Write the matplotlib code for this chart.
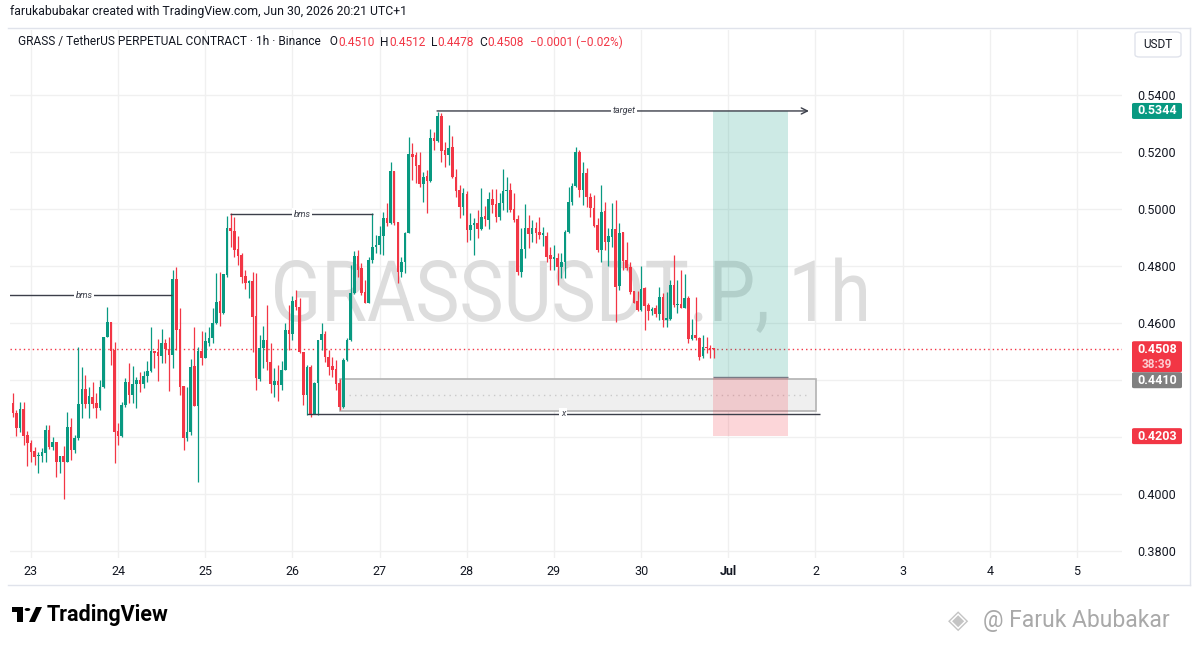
import numpy as np
import matplotlib
matplotlib.use("Agg")
import matplotlib.pyplot as plt
from matplotlib.patches import Rectangle, FancyBboxPatch, PathPatch, Polygon, Circle
from matplotlib.textpath import TextPath
from matplotlib.font_manager import FontProperties
from matplotlib.transforms import Affine2D

plt.rcParams['font.family'] = ['Roboto', 'DejaVu Sans']

# ---------------- data (hourly candles, first = Jun 22 19:00) ----------------
opens = [0.4319,0.4284,0.4232,0.4298,0.4207,0.4179,0.4150,0.4133,0.4133,0.4144,
         0.4225,0.4165,0.4182,0.4112,0.4133,0.4112,0.4235,0.4154,0.4196,0.4316,
         0.4368,0.4316,0.4340,0.4319,0.4302,0.4375,0.4551,0.4604,0.4505,0.4221,
         0.4204,0.4312,0.4393,0.4347,0.4386,0.4400,0.4386,0.4414,0.4432,0.4502,
         0.4498,0.4484,0.4530,0.4509,0.4488,0.4754,0.4579,0.4379,0.4196,0.4218,
         0.4449,0.4309,0.4502,0.4477,0.4530,0.4547,0.4600,0.4677,0.4635,0.4768,
         0.4933,0.4923,0.4860,0.4839,0.4765,0.4740,0.4747,0.4625,0.4404,0.4512,
         0.4540,0.4463,0.4383,0.4396,0.4383,0.4435,0.4575,0.4561,0.4681,0.4656,
         0.4498,0.4347,0.4446,0.4281,0.4389,0.4540,0.4561,0.4481,0.4449,0.4439,
         0.4389,0.4305,0.4470,0.4540,0.4705,0.4835,0.4793,0.4709,0.4670,0.4821,
         0.4867,0.4874,0.4905,0.4968,0.4951,0.5133,0.4954,0.4779,0.4814,0.4916,
         0.5193,0.5189,0.5154,0.5088,0.5116,0.5098,0.5249,0.5239,0.5326,0.5207,
         0.5189,0.5218,0.5112,0.5067,0.5007,0.5053,0.4926,0.4944,0.4951,0.4930,
         0.4975,0.4961,0.5035,0.5018,0.4972,0.5021,0.5063,0.5067,0.5000,0.4965,
         0.4779,0.4860,0.4933,0.4912,0.4933,0.4919,0.4909,0.4905,0.4839,0.4825,
         0.4828,0.4796,0.4814,0.4919,0.5025,0.5081,0.5200,0.5067,0.5126,0.5042,
         0.5004,0.4944,0.4856,0.4993,0.4884,0.4902,0.4930,0.4730,0.4919,0.4821,
         0.4796,0.4712,0.4677,0.4646,0.4723,0.4663,0.4642,0.4653,0.4632,0.4691,
         0.4611,0.4614,0.4733,0.4663,0.4667,0.4653,0.4688,0.4544,0.4558,0.4547,
         0.4484,0.4516,0.4512,0.4510]
highs = [0.4354,0.4295,0.4323,0.4323,0.4221,0.4189,0.4165,0.4147,0.4161,0.4242,
         0.4242,0.4200,0.4182,0.4133,0.4168,0.4288,0.4267,0.4207,0.4516,0.4446,
         0.4418,0.4375,0.4393,0.4354,0.4400,0.4551,0.4656,0.4604,0.4533,0.4249,
         0.4323,0.4407,0.4460,0.4449,0.4411,0.4428,0.4432,0.4467,0.4586,0.4502,
         0.4544,0.4579,0.4544,0.4551,0.4786,0.4796,0.4653,0.4379,0.4375,0.4474,
         0.4586,0.4516,0.4572,0.4568,0.4586,0.4653,0.4775,0.4779,0.4772,0.4975,
         0.4986,0.4972,0.4905,0.4846,0.4786,0.4751,0.4779,0.4775,0.4558,0.4589,
         0.4663,0.4530,0.4442,0.4453,0.4467,0.4600,0.4663,0.4695,0.4716,0.4688,
         0.4498,0.4453,0.4453,0.4393,0.4540,0.4600,0.4572,0.4505,0.4481,0.4470,
         0.4404,0.4477,0.4547,0.4804,0.4853,0.4856,0.4811,0.4751,0.4832,0.4986,
         0.4909,0.4940,0.4989,0.5021,0.5165,0.5133,0.4954,0.4832,0.4919,0.5253,
         0.5232,0.5200,0.5200,0.5130,0.5137,0.5281,0.5270,0.5340,0.5337,0.5235,
         0.5295,0.5256,0.5140,0.5084,0.5074,0.5063,0.4986,0.4968,0.4996,0.5074,
         0.5011,0.5060,0.5070,0.5070,0.5056,0.5140,0.5112,0.5091,0.5056,0.4979,
         0.4933,0.5018,0.4979,0.4961,0.4954,0.4972,0.4937,0.4919,0.4867,0.4874,
         0.4846,0.4846,0.4926,0.5077,0.5091,0.5218,0.5207,0.5165,0.5144,0.5056,
         0.5049,0.4968,0.5084,0.5025,0.4933,0.5021,0.5032,0.4951,0.4919,0.4884,
         0.4814,0.4712,0.4712,0.4800,0.4726,0.4670,0.4656,0.4663,0.4726,0.4705,
         0.4709,0.4751,0.4839,0.4751,0.4786,0.4772,0.4695,0.4614,0.4691,0.4551,
         0.4558,0.4551,0.4523,0.4512]
lows = [0.4270,0.4204,0.4218,0.4172,0.4098,0.4112,0.4102,0.4074,0.4112,0.4112,
        0.4158,0.4154,0.4060,0.4074,0.3983,0.4112,0.4119,0.4144,0.4189,0.4267,
        0.4302,0.4267,0.4302,0.4267,0.4295,0.4372,0.4551,0.4453,0.4109,0.4172,
        0.4200,0.4305,0.4319,0.4319,0.4302,0.4358,0.4372,0.4393,0.4428,0.4442,
        0.4396,0.4460,0.4460,0.4361,0.4442,0.4505,0.4347,0.4154,0.4186,0.4207,
        0.4309,0.4042,0.4453,0.4477,0.4519,0.4530,0.4596,0.4589,0.4632,0.4761,
        0.4867,0.4832,0.4804,0.4740,0.4719,0.4688,0.4498,0.4365,0.4396,0.4442,
        0.4435,0.4354,0.4340,0.4326,0.4365,0.4435,0.4505,0.4540,0.4646,0.4495,
        0.4312,0.4277,0.4270,0.4281,0.4277,0.4505,0.4463,0.4418,0.4411,0.4365,
        0.4295,0.4302,0.4467,0.4537,0.4702,0.4761,0.4698,0.4670,0.4670,0.4811,
        0.4846,0.4842,0.4839,0.4940,0.4947,0.4944,0.4740,0.4761,0.4775,0.4916,
        0.5102,0.5091,0.5077,0.5025,0.4986,0.5095,0.5207,0.5235,0.5165,0.5147,
        0.5154,0.5109,0.5042,0.4968,0.4979,0.4884,0.4891,0.4839,0.4898,0.4926,
        0.4940,0.4930,0.4986,0.4954,0.4961,0.4996,0.4989,0.4989,0.4954,0.4768,
        0.4761,0.4828,0.4863,0.4884,0.4881,0.4895,0.4870,0.4814,0.4786,0.4786,
        0.4733,0.4758,0.4758,0.4916,0.5014,0.5077,0.5042,0.5014,0.5007,0.4972,
        0.4937,0.4849,0.4814,0.4856,0.4800,0.4867,0.4604,0.4716,0.4786,0.4786,
        0.4702,0.4670,0.4642,0.4642,0.4575,0.4611,0.4628,0.4621,0.4611,0.4586,
        0.4586,0.4611,0.4656,0.4635,0.4653,0.4653,0.4530,0.4540,0.4540,0.4470,
        0.4477,0.4495,0.4477,0.4478]
closes = [0.4284,0.4232,0.4298,0.4204,0.4179,0.4147,0.4130,0.4137,0.4147,0.4225,
          0.4165,0.4182,0.4112,0.4133,0.4112,0.4235,0.4154,0.4196,0.4316,0.4368,
          0.4316,0.4344,0.4316,0.4302,0.4375,0.4551,0.4604,0.4502,0.4218,0.4204,
          0.4312,0.4393,0.4347,0.4386,0.4400,0.4386,0.4414,0.4432,0.4502,0.4495,
          0.4484,0.4530,0.4509,0.4488,0.4754,0.4575,0.4375,0.4196,0.4218,0.4446,
          0.4309,0.4502,0.4477,0.4537,0.4547,0.4600,0.4674,0.4635,0.4772,0.4933,
          0.4923,0.4856,0.4835,0.4761,0.4740,0.4747,0.4621,0.4407,0.4512,0.4540,
          0.4463,0.4386,0.4396,0.4383,0.4435,0.4575,0.4561,0.4677,0.4656,0.4498,
          0.4347,0.4446,0.4281,0.4389,0.4540,0.4561,0.4481,0.4446,0.4435,0.4386,
          0.4305,0.4470,0.4540,0.4705,0.4835,0.4786,0.4705,0.4670,0.4821,0.4867,
          0.4874,0.4905,0.4968,0.4951,0.5133,0.4951,0.4779,0.4814,0.4916,0.5193,
          0.5182,0.5151,0.5088,0.5112,0.5098,0.5249,0.5239,0.5326,0.5204,0.5189,
          0.5214,0.5112,0.5063,0.5007,0.5056,0.4926,0.4944,0.4951,0.4930,0.4972,
          0.4965,0.5035,0.5014,0.4972,0.5021,0.5063,0.5067,0.4996,0.4961,0.4779,
          0.4860,0.4933,0.4912,0.4933,0.4916,0.4909,0.4916,0.4832,0.4825,0.4832,
          0.4796,0.4814,0.4919,0.5025,0.5081,0.5200,0.5067,0.5126,0.5042,0.5004,
          0.4940,0.4856,0.4989,0.4884,0.4905,0.4930,0.4726,0.4916,0.4818,0.4793,
          0.4709,0.4670,0.4646,0.4719,0.4660,0.4642,0.4649,0.4632,0.4691,0.4611,
          0.4618,0.4733,0.4663,0.4667,0.4653,0.4688,0.4544,0.4558,0.4547,0.4481,
          0.4516,0.4512,0.4505,0.4508]

day_labels = ['23', '24', '25', '26', '27', '28', '29', '30', 'Jul', '2', '3', '4', '5']
price_ticks = [0.38, 0.40, 0.42, 0.44, 0.46, 0.48, 0.50, 0.52, 0.54]
price_tick_labels = ['0.3800', '0.4000', '', '', '0.4600', '0.4800', '0.5000', '0.5200', '0.5400']

last_price = 0.4508
bms1_level, bms2_level = 0.4697, 0.4982
target_level = 0.5344
x_level = 0.4281
zone_top, zone_bottom, zone_mid = 0.44018, 0.42912, 0.43484
entry, take_profit, stop_loss = 0.4410, 0.5344, 0.4203

GREEN = '#089981'
RED = '#f23645'
DARK = '#131722'
LINE = '#3c3f4a'

W, H = 1195, 645
fig = plt.figure(figsize=(W / 100, H / 100), dpi=100)
fig.patch.set_facecolor('white')

def fx(x):
    return x / W

def fy(y):
    return 1 - y / H

# main chart axes (pixel box 10..1122 x 30..558)
ax = fig.add_axes([fx(10), fy(558), fx(1112), 528 / H])
ax.set_facecolor('white')
ax.set_xlim(-5.78, 300.4)
ax.set_ylim(0.37754, 0.56281)
for s in ax.spines.values():
    s.set_visible(False)

# hours since Jun 23 00:00 (first candle = Jun 22 19:00)
n = len(closes)
hours = np.arange(n) - 5

# grid
day_pos = np.arange(len(day_labels)) * 24
for d in day_pos:
    ax.axvline(d, color='#f0f0f0', lw=1, zorder=0)
for p in price_ticks:
    ax.axhline(p, color='#f0f0f0', lw=1, zorder=0)

# watermark symbol text
fp = FontProperties(family='Roboto')
tp = TextPath((0, 0), "GRASSUSDT.P, 1h", size=100, prop=fp)
tcap = TextPath((0, 0), "GRASSUSDT", size=100, prop=fp).get_extents()
bb = tp.get_extents()
sx = (866 - 275) / bb.width
sy = 61 / tcap.y1
tr = Affine2D().translate(-bb.x0, 0).scale(sx, sy).translate(275, H - 321)
wm = PathPatch(tp, transform=tr, facecolor='#dddddd', edgecolor='none', zorder=0.5)
ax.add_patch(wm)

# candles
o = np.array(opens); c = np.array(closes); hi = np.array(highs); lo = np.array(lows)
up = c >= o
cols = np.where(up, GREEN, RED)
ax.vlines(hours, lo, hi, colors=cols, lw=0.9, zorder=3)
body_bottom = np.minimum(o, c)
body_h = np.maximum(np.abs(c - o), 0.00035)
ax.bar(hours, body_h, bottom=body_bottom, width=0.72, color=cols, edgecolor='none', zorder=4)

# current price line
ax.axhline(last_price, color=RED, lw=1, ls=(0, (1, 2.2)), zorder=2)

# grey zone
ax.add_patch(Rectangle((85.1, zone_bottom), 216.1 - 85.1, zone_top - zone_bottom,
                       facecolor='#efefef', edgecolor='#b2b2b2', lw=1.2, zorder=1.5))
ax.hlines(zone_mid, 87.5, 214.5, color='#c9c9c9', lw=1, ls=(0, (1, 3)), zorder=1.6)

# long position tool
ax.add_patch(Rectangle((187.8, entry), 208.4 - 187.8, take_profit - entry,
                       facecolor=(8/255, 153/255, 129/255, 0.2), edgecolor='none', zorder=2))
ax.add_patch(Rectangle((187.8, stop_loss), 208.4 - 187.8, entry - stop_loss,
                       facecolor=(242/255, 54/255, 69/255, 0.2), edgecolor='none', zorder=2))
ax.hlines(entry, 187.8, 208.4, color='#787b86', lw=1, zorder=2.1)

# drawings
lab = dict(fontsize=6.5, style='italic', color=LINE, ha='center', va='center', zorder=6,
           bbox=dict(facecolor='white', edgecolor='none', pad=1.2))
ax.hlines(bms1_level, -6, 38.8, color=LINE, lw=1, zorder=5)
ax.text(14.6, bms1_level, 'bms', **lab)
ax.hlines(bms2_level, 54.8, 94.2, color=LINE, lw=1, zorder=5)
ax.text(74.6, bms2_level, 'bms', **lab)
ax.annotate('', xy=(214.2, target_level), xytext=(111.8, target_level),
            arrowprops=dict(arrowstyle='->', color=LINE, lw=1, mutation_scale=11,
                            shrinkA=0, shrinkB=0), zorder=5)
ax.text(163.3, target_level, 'target', **lab)
ax.hlines(x_level, 76, 217.2, color=LINE, lw=1, zorder=5)
ax.text(146.5, x_level, 'x', **lab)

# axes ticks
ax.set_xticks(day_pos)
ax.set_xticklabels(day_labels)
for t in ax.get_xticklabels():
    t.set_fontsize(9)
    t.set_color(DARK)
    if t.get_text() == 'Jul':
        t.set_fontweight('bold')
ax.tick_params(axis='x', length=0, pad=5)
ax.yaxis.tick_right()
ax.set_yticks(price_ticks)
ax.set_yticklabels(price_tick_labels)
ax.tick_params(axis='y', length=0, pad=11, labelsize=9, labelcolor=DARK)

# price label boxes on the scale
def ypx(p):
    lo_, hi_ = ax.get_ylim()
    return 558 - (p - lo_) / (hi_ - lo_) * 528

def pbox(y0, y1, color):
    fig.patches.append(FancyBboxPatch((fx(1132), fy(y1)), fx(50), (y1 - y0) / H,
                                      boxstyle='round,pad=0,rounding_size=0.002',
                                      transform=fig.transFigure, facecolor=color,
                                      edgecolor='none', zorder=5))

def ptext(y, s, alpha=1.0, size=9):
    fig.text(fx(1157), fy(y), s, ha='center', va='center', color='white', alpha=alpha,
             fontsize=size, fontweight='bold', zorder=6)

yt = ypx(take_profit)
pbox(yt - 8, yt + 8, GREEN); ptext(yt, f'{take_profit:.4f}')
yl = ypx(last_price)
pbox(yl - 8, yl + 23, RED); ptext(yl, f'{last_price:.4f}'); ptext(yl + 15, '38:39', 0.75, 8.5)
pbox(yl + 23, yl + 39, '#808080'); ptext(yl + 31, f'{entry:.4f}')
ys = ypx(stop_loss)
pbox(ys - 8, ys + 8, RED); ptext(ys, f'{stop_loss:.4f}')

# USDT button
fig.patches.append(FancyBboxPatch((fx(1135), fy(57)), fx(46), 25 / H,
                                  boxstyle='round,pad=0,rounding_size=0.004',
                                  transform=fig.transFigure, facecolor='white',
                                  edgecolor='#e0e3eb', lw=1))
fig.text(fx(1158), fy(44.5), 'USDT', ha='center', va='center', fontsize=8.5, color=DARK)

# frame lines
fig.add_artist(plt.Line2D([fx(8), fx(1190)], [fy(28), fy(28)], color='#e0e3eb', lw=1, transform=fig.transFigure))
fig.add_artist(plt.Line2D([fx(8), fx(1190)], [fy(585), fy(585)], color='#e0e3eb', lw=1, transform=fig.transFigure))
fig.add_artist(plt.Line2D([fx(1190), fx(1190)], [fy(28), fy(585)], color='#e0e3eb', lw=1, transform=fig.transFigure))

# header
fig.text(fx(10), fy(12), 'farukabubakar created with TradingView.com, Jun 30, 2026 20:21 UTC+1',
         fontsize=8.8, color=DARK, va='center', ha='left')

renderer = fig.canvas.get_renderer()
pieces = [('GRASS / TetherUS PERPETUAL CONTRACT · 1h · Binance   O', DARK),
          ('0.4510', RED), ('  H', DARK), ('0.4512', RED), ('  L', DARK), ('0.4478', RED),
          ('  C', DARK), ('0.4508', RED), ('  −0.0001 (−0.02%)', RED)]
xcur = 18
for s, col in pieces:
    t = fig.text(fx(xcur), fy(42), s, fontsize=8.6, color=col, va='center', ha='left')
    bbx = t.get_window_extent(renderer=renderer)
    xcur += bbx.width

# TradingView logo
fig.patches.append(Rectangle((fx(12), fy(612)), fx(11), 5 / H, transform=fig.transFigure, facecolor='black'))
fig.patches.append(Rectangle((fx(17), fy(622)), fx(6), 15 / H, transform=fig.transFigure, facecolor='black'))
fig.patches.append(Circle((fx(27.5), fy(609.5)), 2.8 / W, transform=fig.transFigure, facecolor='black'))
fig.patches.append(Polygon([(fx(29), fy(622)), (fx(35), fy(622)), (fx(42), fy(607)), (fx(36), fy(607))],
                           closed=True, transform=fig.transFigure, facecolor='black'))
fig.text(fx(47), fy(615), 'TradingView', fontsize=15.5, fontweight='bold', color='black', va='center', ha='left')

# author watermark
fig.text(fx(948), fy(621), '◈', fontsize=19, color='#c4c4c4', va='center', ha='left', family=['DejaVu Sans'])
fig.text(fx(983), fy(621), '@ Faruk Abubakar', fontsize=16.5, color='#a9a9a9', va='center', ha='left')

fig.savefig('out.png', dpi=100, facecolor='white')
